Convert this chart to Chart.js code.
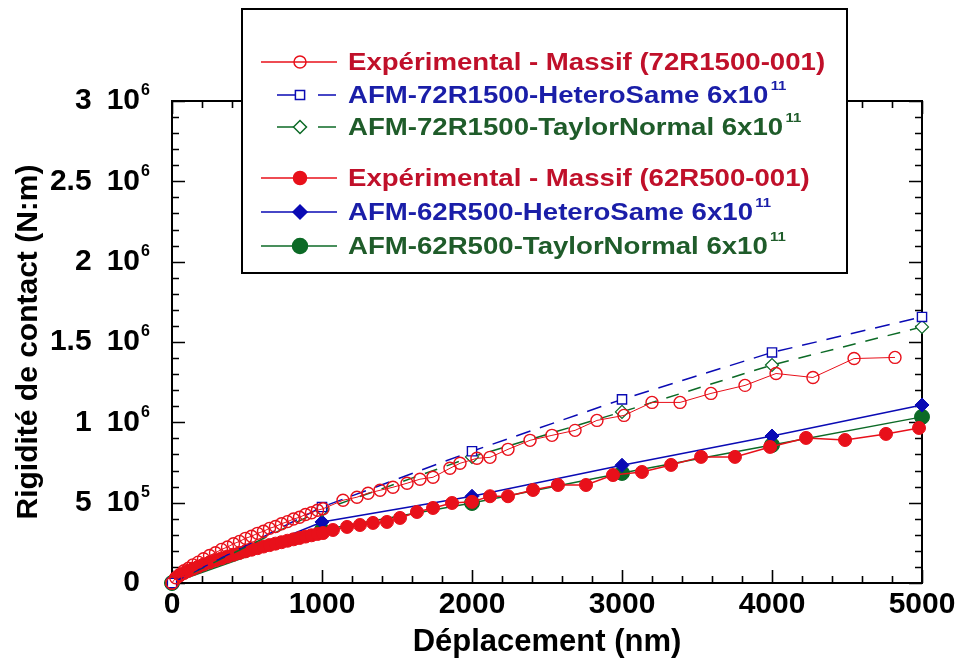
<!DOCTYPE html>
<html>
<head>
<meta charset="utf-8">
<script src="https://cdn.jsdelivr.net/npm/chart.js@4/dist/chart.umd.min.js"></script>
<style>
  html, body { margin: 0; padding: 0; background: #fff; }
  canvas { display: block; }
</style>
</head>
<body>
<canvas id="chart" width="961" height="664"></canvas>
<script>
// Experimental - Massif (72R1500-001), open red circles
const exp72X = [0, 25, 50, 80, 110, 140, 175, 210, 250, 290, 330, 370, 410, 450, 490, 530, 570, 610, 650, 690, 730, 770, 810, 850, 890, 930, 970, 1007,
  1140, 1233, 1307, 1387, 1473, 1567, 1653, 1740, 1853, 1920, 2033, 2120, 2240, 2387, 2533, 2687, 2833, 3013, 3200, 3387, 3593, 3820, 4027, 4273, 4547, 4820];
const exp72Y = [0, 33000, 51000, 76000, 92000, 113000, 130000, 151000, 171000, 188000, 209000, 224000, 244000, 259000, 278000, 291000, 309000, 322000, 340000, 352000, 369000, 382000, 398000, 409000, 426000, 437000, 453000, 462000,
  515000, 534000, 559000, 577000, 596000, 621000, 646000, 658000, 714000, 745000, 776000, 782000, 832000, 888000, 919000, 950000, 1012000, 1043000, 1124000, 1124000, 1180000, 1230000, 1304000, 1279000, 1397000, 1404000];

// Experimental - Massif (62R500-001), filled red circles
const exp62X = [0, 25, 50, 80, 110, 140, 175, 210, 250, 290, 330, 370, 410, 450, 490, 530, 570, 610, 650, 690, 730, 770, 810, 850, 890, 930, 970, 1007,
  1073, 1167, 1253, 1340, 1433, 1520, 1633, 1740, 1867, 2000, 2120, 2240, 2407, 2573, 2760, 2940, 3133, 3327, 3527, 3753, 3987, 4227, 4487, 4760, 4980];
const exp62Y = [0, 29000, 46000, 62000, 76000, 88000, 102000, 115000, 128000, 141000, 153000, 165000, 176000, 187000, 197000, 207000, 217000, 227000, 236000, 245000, 254000, 263000, 272000, 280000, 289000, 297000, 305000, 311000,
  330000, 349000, 361000, 374000, 380000, 405000, 442000, 467000, 498000, 505000, 540000, 540000, 579000, 610000, 610000, 672000, 691000, 735000, 785000, 785000, 847000, 903000, 890000, 928000, 965000];

// AFM simulations, one value per 1000 nm
const afmX = [0, 1000, 2000, 3000, 4000, 5000];
const hetero72Y = [0, 473000, 820000, 1143000, 1435000, 1656000];
const taylor72Y = [0, 455000, 785000, 1065000, 1357000, 1594000];
const hetero62Y = [0, 380000, 540000, 733000, 915000, 1108000];
const taylor62Y = [0, 330000, 498000, 685000, 859000, 1034000];

const seriesNames = [
  'Expérimental - Massif (72R1500-001)',
  'AFM-72R1500-HeteroSame 6x10',
  'AFM-72R1500-TaylorNormal 6x10',
  'Expérimental - Massif (62R500-001)',
  'AFM-62R500-HeteroSame 6x10',
  'AFM-62R500-TaylorNormal 6x10'
];
const seriesSup = ['', '11', '11', '', '11', '11'];

const xTickVals = [0, 1000, 2000, 3000, 4000, 5000];
const xTickLabels = ['0', '1000', '2000', '3000', '4000', '5000'];
const yTickVals = [0, 500000, 1000000, 1500000, 2000000, 2500000, 3000000];
const yTickLabels = ['0', '5\u200210', '1\u200210', '1.5\u200210', '2\u200210', '2.5\u200210', '3\u200210'];
const yTickSup = ['', '5', '6', '6', '6', '6', '6'];

const RED = '#e8101a', RED_TXT = '#c0102a';
const BLUE = '#0a0ab4', BLUE_TXT = '#1a1ea8';
const GREEN = '#0c6a26', GREEN_TXT = '#1f5c2a';
const FONT = "'Liberation Sans', Arial, sans-serif";
const Y_LABEL_PAD = 32;

const pts = (xs, ys) => xs.map((x, i) => ({ x: x, y: ys[i] }));

Chart.defaults.font.family = FONT;
Chart.defaults.color = '#000';

// inward tick marks on all four sides, the frame, and the exponents of the y labels
const frameTicks = {
  id: 'frameTicks',
  beforeDatasetsDraw(chart) {
    const { ctx, chartArea: a, scales: { x, y } } = chart;
    ctx.save();
    ctx.strokeStyle = '#000';
    ctx.lineWidth = 1.6;
    ctx.beginPath();
    x.ticks.forEach(t => {
      const px = Math.round(x.getPixelForValue(t.value)) + 0.5;
      const len = t.value % 1000 === 0 ? 13 : 7;
      ctx.moveTo(px, a.bottom); ctx.lineTo(px, a.bottom - len);
      ctx.moveTo(px, a.top); ctx.lineTo(px, a.top + len);
    });
    y.ticks.forEach(t => {
      const py = Math.round(y.getPixelForValue(t.value)) + 0.5;
      const len = Math.round(t.value) % 500000 === 0 ? 13 : 7;
      ctx.moveTo(a.left, py); ctx.lineTo(a.left + len, py);
      ctx.moveTo(a.right, py); ctx.lineTo(a.right - len, py);
    });
    ctx.stroke();
    ctx.lineWidth = 2;
    ctx.strokeRect(a.left, a.top, a.right - a.left, a.bottom - a.top);

    ctx.fillStyle = '#000';
    ctx.font = 'bold 16px ' + FONT;
    ctx.textAlign = 'left';
    ctx.textBaseline = 'middle';
    yTickVals.forEach((v, i) => {
      if (!yTickSup[i]) return;
      ctx.fillText(yTickSup[i], a.left - Y_LABEL_PAD + 1, y.getPixelForValue(v) - 10);
    });
    ctx.restore();
  }
};

// boxed legend drawn over the top of the plot
const boxLegend = {
  id: 'boxLegend',
  afterDraw(chart) {
    const ctx = chart.ctx;
    const box = { l: 242, t: 9, r: 847, b: 273 };
    const rowY = [62, 95, 127, 178, 212, 246];
    const txtColors = [RED_TXT, BLUE_TXT, GREEN_TXT, RED_TXT, BLUE_TXT, GREEN_TXT];
    ctx.save();
    ctx.fillStyle = '#fff';
    ctx.fillRect(box.l, box.t, box.r - box.l, box.b - box.t);
    ctx.strokeStyle = '#000';
    ctx.lineWidth = 2;
    ctx.strokeRect(box.l, box.t, box.r - box.l, box.b - box.t);

    chart.data.datasets.forEach((ds, i) => {
      const y = rowY[i];
      ctx.save();
      ctx.strokeStyle = ds.borderColor;
      ctx.lineWidth = 1.5;
      ctx.setLineDash([]);
      ctx.beginPath();
      if (ds.borderDash && ds.borderDash.length) {
        ctx.moveTo(277, y); ctx.lineTo(300, y);
        ctx.moveTo(318, y); ctx.lineTo(336, y);
      } else {
        ctx.moveTo(261, y); ctx.lineTo(337, y);
      }
      ctx.stroke();
      ctx.fillStyle = ds.pointBackgroundColor;
      ctx.strokeStyle = ds.pointBorderColor;
      Chart.helpers.drawPoint(ctx, {
        pointStyle: ds.pointStyle, radius: ds.pointRadius, rotation: 0, borderWidth: ds.pointBorderWidth
      }, 300, y);
      ctx.restore();

      ctx.save();
      ctx.translate(348, y);
      ctx.scale(1.15, 1);
      ctx.fillStyle = txtColors[i];
      ctx.textBaseline = 'middle';
      ctx.textAlign = 'left';
      ctx.font = 'bold 24px ' + FONT;
      ctx.fillText(seriesNames[i], 0, 1);
      if (seriesSup[i]) {
        const w = ctx.measureText(seriesNames[i]).width;
        ctx.font = 'bold 13px ' + FONT;
        ctx.fillText(seriesSup[i], w + 2, -9);
      }
      ctx.restore();
    });
    ctx.restore();
  }
};

new Chart(document.getElementById('chart'), {
  type: 'scatter',
  data: {
    datasets: [
      {
        label: seriesNames[0], data: pts(exp72X, exp72Y), showLine: true,
        borderColor: RED, borderWidth: 1, pointStyle: 'circle', pointRadius: 6,
        pointBackgroundColor: 'rgba(255,255,255,0)', pointBorderColor: RED, pointBorderWidth: 1.4, clip: false
      },
      {
        label: seriesNames[1], data: pts(afmX, hetero72Y), showLine: true,
        borderColor: BLUE, borderWidth: 1.5, borderDash: [15, 10], pointStyle: 'rect', pointRadius: 6.5,
        pointBackgroundColor: '#fff', pointBorderColor: BLUE, pointBorderWidth: 1.4, clip: false
      },
      {
        label: seriesNames[2], data: pts(afmX, taylor72Y), showLine: true,
        borderColor: GREEN, borderWidth: 1.5, borderDash: [13, 10], pointStyle: 'rectRot', pointRadius: 6.5,
        pointBackgroundColor: '#fff', pointBorderColor: GREEN, pointBorderWidth: 1.2, clip: false
      },
      {
        label: seriesNames[3], data: pts(exp62X, exp62Y), showLine: true,
        borderColor: RED, borderWidth: 1.5, pointStyle: 'circle', pointRadius: 6.5,
        pointBackgroundColor: RED, pointBorderColor: RED, pointBorderWidth: 1, clip: false
      },
      {
        label: seriesNames[4], data: pts(afmX, hetero62Y), showLine: true,
        borderColor: BLUE, borderWidth: 1.5, pointStyle: 'rectRot', pointRadius: 7,
        pointBackgroundColor: BLUE, pointBorderColor: BLUE, pointBorderWidth: 1, clip: false
      },
      {
        label: seriesNames[5], data: pts(afmX, taylor62Y), showLine: true,
        borderColor: GREEN, borderWidth: 1.5, pointStyle: 'circle', pointRadius: 7.5,
        pointBackgroundColor: GREEN, pointBorderColor: GREEN, pointBorderWidth: 1, clip: false
      }
    ]
  },
  options: {
    responsive: false,
    animation: false,
    layout: { padding: { top: 101, right: 39, left: 0, bottom: 0 } },
    plugins: {
      legend: { display: false },
      tooltip: { enabled: false }
    },
    scales: {
      x: {
        type: 'linear', min: 0, max: 5000,
        grid: { display: false, drawTicks: false },
        border: { display: false },
        ticks: {
          stepSize: 200, autoSkip: false, maxRotation: 0, padding: 4,
          font: { size: 30, weight: 'bold' }, color: '#000',
          callback: v => {
            const i = xTickVals.indexOf(Math.round(v));
            return i >= 0 ? xTickLabels[i] : '';
          }
        },
        title: {
          display: true, text: 'Déplacement (nm)', color: '#000',
          font: { size: 31, weight: 'bold' }, padding: { top: 0, bottom: 3 }
        },
        afterFit: s => { s.height = 81; }
      },
      y: {
        type: 'linear', min: 0, max: 3000000,
        grid: { display: false, drawTicks: false },
        border: { display: false },
        ticks: {
          stepSize: 100000, autoSkip: false, padding: Y_LABEL_PAD,
          font: { size: 30, weight: 'bold' }, color: '#000',
          callback: v => {
            const i = yTickVals.indexOf(Math.round(v));
            return i >= 0 ? yTickLabels[i] : '';
          }
        },
        title: {
          display: true, text: 'Rigidité de contact (N:m)', color: '#000',
          font: { size: 30, weight: 'bold' }, padding: { top: 11, bottom: 0 }
        },
        afterFit: s => { s.width = 172; }
      }
    }
  },
  plugins: [frameTicks, boxLegend]
});
</script>
</body>
</html>
